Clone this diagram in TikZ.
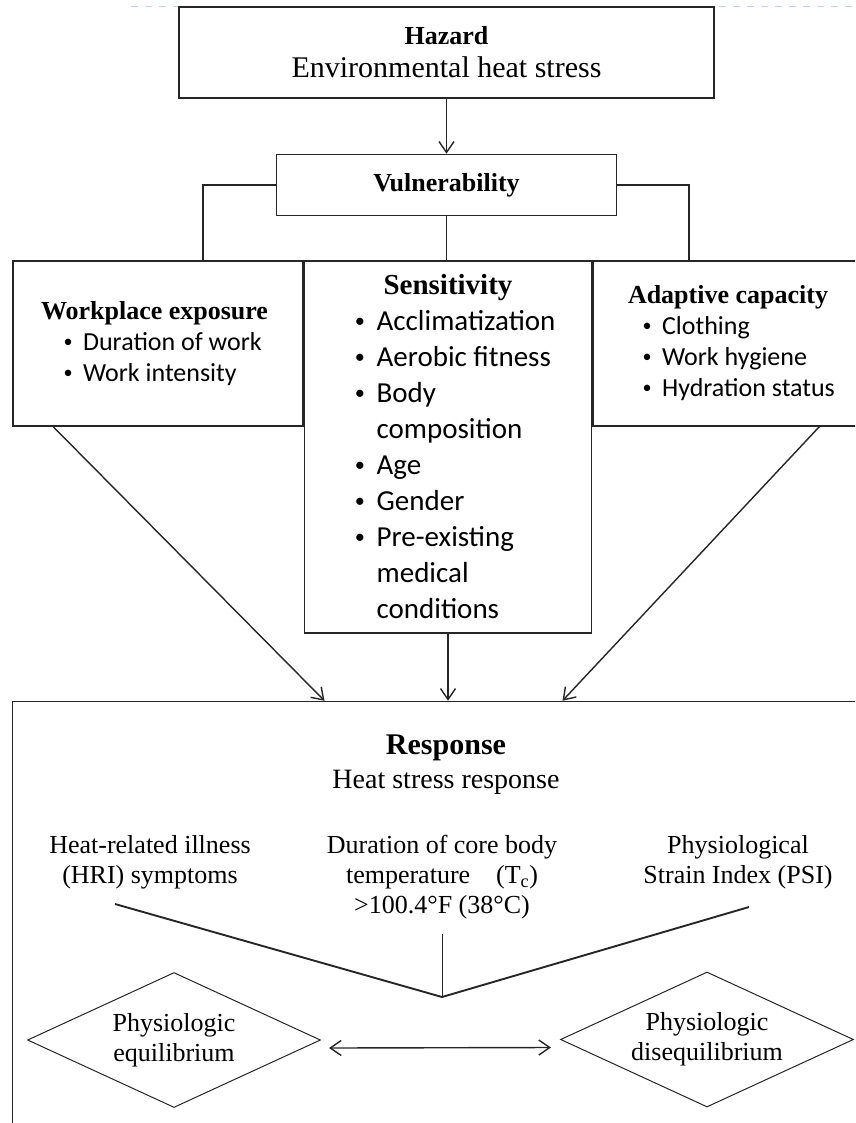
\documentclass[tikz,border=0pt]{standalone}
\usepackage{fontspec}
\setmainfont{Liberation Serif}
\newfontfamily\calibrifont{Carlito}
\usepackage{tikz}
\usetikzlibrary{positioning}
\usetikzlibrary{shapes.geometric}
\usetikzlibrary{arrows.meta}
\definecolor{guideblue}{RGB}{178,216,228}
\newcommand{\hsitem}[2][0pt]{\hspace*{#1}\makebox[0.85em][l]{\hspace{0.1em}\raisebox{0.12em}{\scalebox{0.7}{\textbullet}}}#2}
\newcommand{\hsmore}[2][0pt]{\hspace*{#1}\hspace*{0.85em}#2}

\begin{document}
\begin{tikzpicture}[x=1pt,y=-1pt,>={Straight Barb[length=11pt,width=15pt]},
	hsbox/.style={rectangle, draw=black!85, line width=1.5pt, inner sep=0pt},
	hslist/.style={hsbox, align=flush left, execute at begin node={\spaceskip=0pt\xspaceskip=0pt}},
	hsdiam/.style={diamond, draw=black!85, line width=1pt, inner sep=0pt, shape aspect=2.17, minimum width=293pt, minimum height=135pt, align=center, font=\fontsize{26}{30}\selectfont},
	hslabel/.style={align=center, font=\fontsize{26}{30}\selectfont}]
	\clip (0,0) rectangle (855,1123);
	\draw[guideblue, line width=0.8pt, dash pattern=on 7pt off 7pt] (131,6) -- (855,6);
	\node[hsbox, minimum width=535pt, minimum height=91pt, align=center, font=\fontsize{30}{33}\selectfont] (hazard) at (446.5,52.5) {{\fontsize{26}{33}\selectfont\bfseries Hazard}\\Environmental heat stress};
	\node[hsbox, minimum width=340pt, minimum height=61pt, font=\fontsize{26}{30}\selectfont\bfseries] (vuln) [below = 55pt of hazard] {Vulnerability};
	\node[hslist, minimum width=287pt, minimum height=372pt, text width=224pt, font=\fontsize{29}{36}\selectfont] (sens) [below = 44pt of vuln, xshift=1.5pt] {\makebox[\hsize][c]{\bfseries Sensitivity}\\ \calibrifont\hsitem[16pt]{Acclimatization}\\ \hsitem[16pt]{Aerobic fitness}\\ \hsitem[16pt]{Body}\\ \hsmore[16pt]{composition}\\ \hsitem[16pt]{Age}\\ \hsitem[16pt]{Gender}\\ \hsitem[16pt]{Pre-existing}\\ \hsmore[16pt]{medical}\\ \hsmore[16pt]{conditions}};
	\node[hslist, anchor=north east, minimum width=290pt, minimum height=165pt, text width=234pt, font=\fontsize{26}{31}\selectfont] (expo) at (sens.north west) {\textbf{Workplace exposure}\\ \calibrifont\hsitem[20pt]{Duration of work}\\ \hsitem[20pt]{Work intensity}};
	\node[hslist, anchor=north west, minimum width=283pt, minimum height=165pt, text width=213pt, font=\fontsize{26}{31}\selectfont] (adapt) at (sens.north east) {\textbf{Adaptive capacity}\\ \calibrifont\hsitem[12pt]{Clothing}\\ \hsitem[12pt]{Work hygiene}\\ \hsitem[12pt]{Hydration status}};
	\node[hsbox, minimum width=868pt, minimum height=443pt] (resp) [below = 67pt of sens, xshift=-1.5pt] {};
	\draw[->, line width=1.4pt, black!85] (hazard.south) -- (vuln.north);
	\draw[line width=1.5pt, black!85] (vuln.west) -| ([xshift=45pt]expo.north);
	\draw[line width=1.5pt, black!85] (vuln.east) -| ([xshift=-45.5pt]adapt.north);
	\draw[line width=1.5pt, black!85] (vuln.south) -- (vuln.south |- sens.north);
	\draw[->, line width=1.4pt, black!85] ([xshift=41pt]expo.south west) -- ([xshift=-122pt]resp.north);
	\draw[->, line width=1.4pt, black!85] (sens.south) -- (sens.south |- resp.north);
	\draw[->, line width=1.4pt, black!85] ([xshift=227pt]adapt.south west) -- ([xshift=116pt]resp.north);
	\node[align=center, font=\fontsize{28}{34}\selectfont] (resptitle) at (446,765) {{\fontsize{30}{34}\selectfont\bfseries Response}\\Heat stress response};
	\node[hslabel] (hri) at (150,862) {Heat-related illness\\(HRI) symptoms};
	\node[hslabel] (core) at (442,877) {Duration of core body\\temperature\quad(T\textsubscript{c})\\>100.4°F (38°C)};
	\node[hslabel] (psi) at (738,862) {Physiological\\Strain Index (PSI)};
	\coordinate (vl) at (115,904);
	\coordinate (vr) at (749,907);
	\coordinate (vtip) at (442,997);
	\draw[line width=1.9pt, black!85] (vl) -- (vtip) -- (vr);
	\draw[line width=1pt, black!85] ([yshift=-12pt]core.south) -- (vtip);
	\node[hsdiam] (equil) at (174,1040) {Physiologic\\equilibrium};
	\node[hsdiam] (diseq) at (707,1039.5) {Physiologic\\disequilibrium};
	\draw[<->, line width=1.4pt, black!85] ([xshift=8pt,yshift=-8pt]equil.east) -- ([xshift=-9pt,yshift=-8pt]diseq.west);
\end{tikzpicture}
\end{document}
